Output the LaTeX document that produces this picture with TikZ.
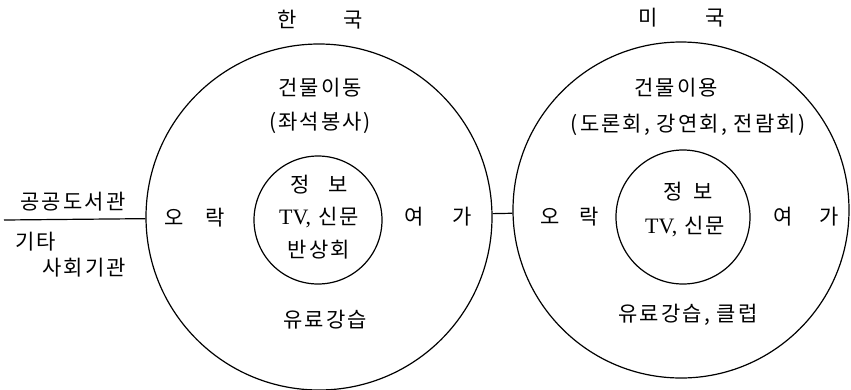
\documentclass[tikz,border=0pt]{standalone}
\usepackage{fontspec}
\newfontfamily\hangul[LetterSpace=10]{Noto Sans CJK KR}
\newfontfamily\lat{Liberation Serif}
\usepackage{tikz}
\usetikzlibrary{shapes,arrows}

\begin{document}
\begin{tikzpicture}[x=1pt, y=-1pt,
			kreis/.style={draw, circle, line width=1.2pt, minimum size=#1, inner sep=0pt},
			txt/.style={inner sep=0pt, font=\hangul\fontsize{21}{25}\selectfont},
			>=latex]
			%Bildbereich
			\useasboundingbox (0,0) rectangle (851,389);
			% Kreise zeichnen
			\node[kreis=346pt] (kor) at (319,217) {};
			\node[kreis=336pt] (usa) at (681,210) {};
			\node[kreis=128pt] (korin) at (318,220) {};
			\node[kreis=134pt] (usain) at (683,217) {};
			% Verbindungen
			\coordinate (links) at (4,220);
			\draw[line width=1.2pt] (links) -- (kor);
			\draw[line width=1.2pt] (kor) -- (usa);
			% Beschriftung links
			\node[txt] (hanguk) at (320,20) {한\hspace{47pt}국};
			\node[txt] (kora) at (320,88) {건물이동};
			\node[txt] (korb) at (320,123) {(좌석봉사)};
			\node[txt] (kororak) at (195,218) {오\hspace{22pt}락};
			\node[txt] (koryeoga) at (438,217) {여\hspace{29pt}가};
			\node[txt] (korc) at (319,185) {정\hspace{19pt}보};
			\node[txt] (kord) at (319,218) {{\lat\fontsize{22}{25}\selectfont TV,} 신문};
			\node[txt] (kore) at (319,250) {반상회};
			\node[txt] (korf) at (325,320) {유료강습};
			% Beschriftung rechts
			\node[txt] (migug) at (682,18) {미\hspace{48pt}국};
			\node[txt] (usaa) at (676,88) {건물이용};
			\node[txt] (usab) at (688,125) {(도론회, 강연회, 전람회)};
			\node[txt] (usaorak) at (570,217) {오\hspace{20pt}락};
			\node[txt] (usayeoga) at (806,217) {여\hspace{26pt}가};
			\node[txt] (usac) at (688,192) {정\hspace{10pt}보};
			\node[txt] (usad) at (685,227) {{\lat\fontsize{22}{25}\selectfont TV,} 신문};
			\node[txt] (usaf) at (688,315) {유료강습, 클럽};
			% Aussen
			\node[txt] (gonggong) at (73,202) {공공도서관};
			\node[txt, anchor=west] (gita) at (15,242) {기타};
			\node[txt, anchor=west] (sahoe) at (42,268) {사회기관};
		\end{tikzpicture}
\end{document}
